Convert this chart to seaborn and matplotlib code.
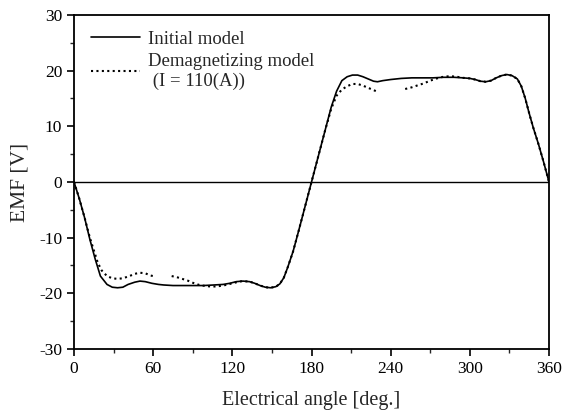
import numpy as np
import pandas as pd
import matplotlib
matplotlib.use("Agg")
import matplotlib.pyplot as plt
from matplotlib.ticker import MultipleLocator
from matplotlib.lines import Line2D
import seaborn as sns

# ---- data ----
init_angle = [0, 4, 8, 12, 16, 20, 25, 29, 33, 37, 41, 46, 50, 54, 59, 64, 68, 75, 82, 90,
              98, 106, 113, 118, 123, 128, 133, 137, 141, 145, 149, 153, 156, 159, 162, 166,
              170, 175, 180, 185, 190, 195, 199, 203, 207, 211, 215, 219, 223, 227, 230, 234,
              240, 248, 256, 264, 272, 280, 288, 295, 300, 304, 308, 312, 316, 320, 324, 328,
              332, 336, 339, 342, 345, 348, 352, 356, 360]
init_emf = [0, -3.0, -6.4, -10.3, -13.8, -16.9, -18.4, -18.9, -19.0, -18.9, -18.4, -18.0, -17.8,
            -17.9, -18.2, -18.4, -18.5, -18.6, -18.6, -18.6, -18.6, -18.5, -18.4, -18.2, -17.9,
            -17.8, -17.9, -18.2, -18.6, -18.9, -19.0, -18.8, -18.3, -17.2, -15.3, -12.5, -9.0,
            -4.5, 0, 4.5, 9.0, 13.5, 16.3, 18.2, 18.9, 19.2, 19.2, 18.9, 18.5, 18.1, 18.0, 18.2,
            18.4, 18.6, 18.7, 18.7, 18.7, 18.8, 18.8, 18.7, 18.6, 18.4, 18.1, 18.0, 18.2, 18.7,
            19.1, 19.3, 19.1, 18.5, 17.2, 15.0, 12.3, 9.8, 6.8, 3.5, 0]

demag_angle = [0, 4, 8, 12, 16, 18, 21, 25, 29, 33, 37, 42, 46, 50, 54, 58, 60,
               74, 78, 82, 86, 90, 95, 100, 105, 110, 115, 120, 125, 128, 133, 137, 141, 145,
               149, 153, 156, 159, 162, 166, 170, 175, 180, 185, 190, 195, 199, 203, 207, 211,
               215, 219, 223, 227, 230,
               251, 256, 261, 265, 270, 275, 280, 285, 290, 295, 300, 304, 308, 312, 316, 320,
               324, 328, 332, 336, 339, 342, 345, 348, 352, 356, 360]
demag_emf = [0, -3.0, -6.4, -10.0, -13.0, -14.5, -15.9, -16.9, -17.3, -17.4, -17.3, -16.9, -16.5,
             -16.3, -16.4, -16.8, -16.9,
             -16.9, -17.1, -17.4, -17.7, -18.1, -18.5, -18.7, -18.8, -18.7, -18.5, -18.2, -17.9,
             -17.8, -17.9, -18.2, -18.6, -18.9, -19.0, -18.8, -18.3, -17.2, -15.3, -12.5, -9.0,
             -4.5, 0, 4.5, 9.0, 13.2, 15.5, 16.6, 17.2, 17.6, 17.6, 17.3, 16.9, 16.5, 16.2,
             16.7, 17.0, 17.4, 17.7, 18.2, 18.6, 18.9, 19.0, 18.9, 18.7, 18.6, 18.4, 18.1, 18.0,
             18.2, 18.7, 19.1, 19.3, 19.1, 18.5, 17.2, 15.0, 12.3, 9.8, 6.8, 3.5, 0]
demag_segment = [0] * 17 + [1] * 38 + [2] * 27

x_ticks = [0, 60, 120, 180, 240, 300, 360]
y_ticks = [-30, -20, -10, 0, 10, 20, 30]
labels = ["Initial model", "Demagnetizing model\n (I = 110(A))"]

# ---- plotting ----
sns.set_theme(style="ticks")
plt.rcParams["font.family"] = ["Liberation Serif", "DejaVu Serif"]
plt.rcParams["axes.unicode_minus"] = False

fig = plt.figure(figsize=(5.62, 4.15), dpi=100)
ax = fig.add_axes([0.1317, 0.159, 0.8452, 0.805])

df_init = pd.DataFrame({"angle": init_angle, "emf": init_emf})
df_demag = pd.DataFrame({"angle": demag_angle, "emf": demag_emf, "seg": demag_segment})

solid_kw = dict(color="black", lw=1.2)
dot_kw = dict(color="black", lw=1.5, linestyle=(0, (1, 1.6)))

ax.axhline(0, color="black", lw=1.0, zorder=1)
sns.lineplot(data=df_init, x="angle", y="emf", ax=ax, sort=False, estimator=None,
             legend=False, **solid_kw)
sns.lineplot(data=df_demag, x="angle", y="emf", units="seg", ax=ax, sort=False,
             estimator=None, legend=False, **dot_kw)

ax.set_xlim(0, 360)
ax.set_ylim(-30, 30)
ax.set_xticks(x_ticks)
ax.set_yticks(y_ticks)
ax.xaxis.set_minor_locator(MultipleLocator(30))
ax.yaxis.set_minor_locator(MultipleLocator(5))
ax.tick_params(which="major", direction="out", length=5, width=1.2, labelsize=12.5,
               colors="black")
ax.tick_params(which="minor", direction="out", length=3, width=1.0)
for s in ax.spines.values():
    s.set_visible(True)
    s.set_linewidth(1.3)
    s.set_color("black")

ax.set_xlabel("Electrical angle [deg.]", fontsize=14.5, labelpad=10)
ax.set_ylabel("EMF [V]", fontsize=15.5, labelpad=7)

handles = [Line2D([], [], **solid_kw), Line2D([], [], **dot_kw)]
leg = ax.legend(handles, labels, loc="upper left", frameon=False, fontsize=13.5,
                handlelength=2.6, handletextpad=0.45, borderaxespad=0.0,
                labelspacing=0.25, bbox_to_anchor=(0.02, 0.975))

fig.savefig("out.png", dpi=100)
